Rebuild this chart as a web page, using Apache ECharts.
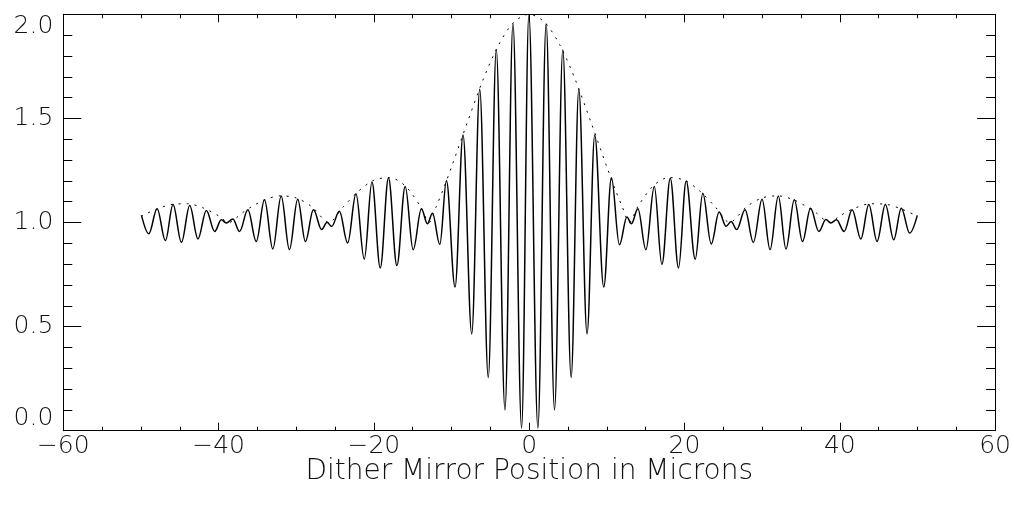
<!DOCTYPE html>
<html>
<head>
<meta charset="utf-8">
<script src="https://cdn.jsdelivr.net/npm/echarts@6/dist/echarts.min.js"></script>
<style>
  html, body { margin: 0; background: #fff; }
  #chart { width: 1014px; height: 508px; }
</style>
</head>
<body>
<div id="chart"></div>
<script>
// solid trace: turning points (position in microns, signal)
const tracePos = [
  -49.93, -48.99, -47.92, -46.85, -45.87, -44.79, -43.72, -42.66, -41.58, -40.51,
  -39.65, -39.01, -38.16, -37.30, -36.23, -35.15, -34.09, -33.02, -31.94, -30.88,
  -29.81, -28.82, -27.79, -26.72, -26.03, -25.44, -24.45, -23.38, -22.31, -21.24,
  -20.25, -19.18, -18.12, -17.04, -15.97, -14.94, -13.88, -13.11, -12.46, -11.51,
  -10.66, -9.55, -8.52, -7.40, -6.37, -5.27, -4.24, -3.12, -2.09, -0.98,
  -0.04, 1.12, 2.18, 3.26, 4.33, 5.40, 6.39, 7.45, 8.44, 9.60,
  10.59, 11.62, 12.59, 13.16, 14.00, 15.03, 16.11, 17.09, 18.17, 19.23,
  20.22, 21.38, 22.36, 23.44, 24.46, 25.36, 26.01, 26.72, 27.80, 28.87,
  29.99, 31.02, 32.08, 33.07, 34.14, 35.20, 36.23, 37.31, 38.21, 38.85,
  39.57, 40.56, 41.59, 42.71, 43.74, 44.80, 45.87, 46.95, 47.92, 49.00,
  49.98
];
const traceVal = [
  1.034, 0.946, 1.066, 0.913, 1.087, 0.905, 1.082, 0.921, 1.058, 0.957,
  1.013, 0.998, 1.017, 0.957, 1.061, 0.909, 1.109, 0.873, 1.127, 0.870,
  1.112, 0.909, 1.061, 0.966, 1.001, 0.981, 1.054, 0.902, 1.138, 0.824,
  1.194, 0.782, 1.215, 0.793, 1.173, 0.869, 1.066, 0.994, 1.045, 0.895,
  1.200, 0.690, 1.420, 0.465, 1.640, 0.256, 1.830, 0.100, 1.955, 0.013,
  2.000, 0.013, 1.955, 0.100, 1.830, 0.256, 1.640, 0.465, 1.420, 0.690,
  1.215, 0.893, 1.026, 0.994, 1.066, 0.869, 1.173, 0.798, 1.213, 0.782,
  1.199, 0.824, 1.141, 0.897, 1.050, 0.982, 1.005, 0.966, 1.061, 0.905,
  1.112, 0.870, 1.127, 0.873, 1.109, 0.909, 1.069, 0.957, 1.014, 0.998,
  1.013, 0.957, 1.061, 0.921, 1.087, 0.909, 1.087, 0.917, 1.069, 0.949,
  1.034
];

// dotted envelope
const envPos = [
  -50, -48, -46, -44, -42, -40, -38.7, -37, -36, -34, -32, -30, -28, -25.8,
  -24, -22, -20, -18, -16, -14, -12.9, -12, -11, -10, -8, -6, -4, -2, 0,
  2, 4, 6, 8, 10, 11, 12, 12.9, 14, 16, 18, 20, 22, 24, 25.8,
  28, 30, 32, 34, 36, 37, 38.7, 40, 42, 44, 46, 48, 50
];
const envVal = [
  1.03, 1.064, 1.087, 1.09, 1.07, 1.032, 1.0, 1.045, 1.07, 1.11, 1.128, 1.118, 1.076, 1.0,
  1.073, 1.15, 1.203, 1.216, 1.177, 1.077, 1.0, 1.074, 1.166, 1.267, 1.477, 1.68, 1.849, 1.961, 2.0,
  1.961, 1.849, 1.68, 1.477, 1.267, 1.166, 1.074, 1.0, 1.077, 1.177, 1.216, 1.203, 1.15, 1.073, 1.0,
  1.076, 1.118, 1.128, 1.11, 1.07, 1.045, 1.0, 1.032, 1.07, 1.09, 1.087, 1.064, 1.03
];

const xTitle = 'Dither Mirror Position in Microns';

const font = 'DejaVu Sans';
const txt = { fontFamily: font, fontSize: 25, fontWeight: 200, color: '#111' };

let chart = echarts.init(document.getElementById('chart'), null, { renderer: 'canvas' });

function xAx(pos, labels) {
  return {
    type: 'value', position: pos, min: -60, max: 60, interval: 20,
    axisLine: { show: true, onZero: false, lineStyle: { color: '#000', width: 1 } },
    axisTick: { show: true, inside: true, length: 8, lineStyle: { color: '#000' } },
    minorTick: { show: true, splitNumber: 4, length: 4, lineStyle: { color: '#000' } },
    splitLine: { show: false },
    axisLabel: Object.assign({
      show: labels, margin: 3,
      formatter: v => v < 0 ? '\u2212' + Math.abs(v) : String(v)
    }, txt),
    name: labels ? xTitle : '',
    nameLocation: 'middle', nameGap: 27,
    nameMoveOverlap: false,
    nameTextStyle: Object.assign({}, txt, { fontSize: 28 })
  };
}
function yAx(pos, labels) {
  return {
    type: 'value', position: pos, min: 0, max: 2, interval: 0.5,
    axisLine: { show: true, onZero: false, lineStyle: { color: '#000', width: 1 } },
    axisTick: { show: true, inside: true, length: 18, lineStyle: { color: '#000' } },
    minorTick: { show: true, splitNumber: 5, length: 9, lineStyle: { color: '#000' } },
    splitLine: { show: false },
    axisLabel: Object.assign({
      show: labels, margin: 10,
      formatter: v => v.toFixed(1),
      verticalAlignMaxLabel: 'top', verticalAlignMinLabel: 'bottom'
    }, txt)
  };
}

let option = {
  backgroundColor: '#fff',
  animation: false,
  grid: { left: 63.3, right: 16.5, top: 14.3, bottom: 77.3, containLabel: false },
  xAxis: [xAx('bottom', true), xAx('top', false)],
  yAxis: [yAx('left', true), yAx('right', false)],
  series: [
    {
      type: 'line',
      symbol: 'none',
      smooth: 0.3,
      lineStyle: { color: '#000', width: 1, type: [2, 6] },
      data: envPos.map((x, i) => [x, envVal[i]])
    },
    {
      type: 'line',
      symbol: 'none',
      smooth: 0.36,
      smoothMonotone: 'x',
      lineStyle: { color: '#000', width: 1.5 },
      data: tracePos.map((x, i) => [x, traceVal[i]])
    }
  ]
};
chart.setOption(option);
</script>
</body>
</html>
